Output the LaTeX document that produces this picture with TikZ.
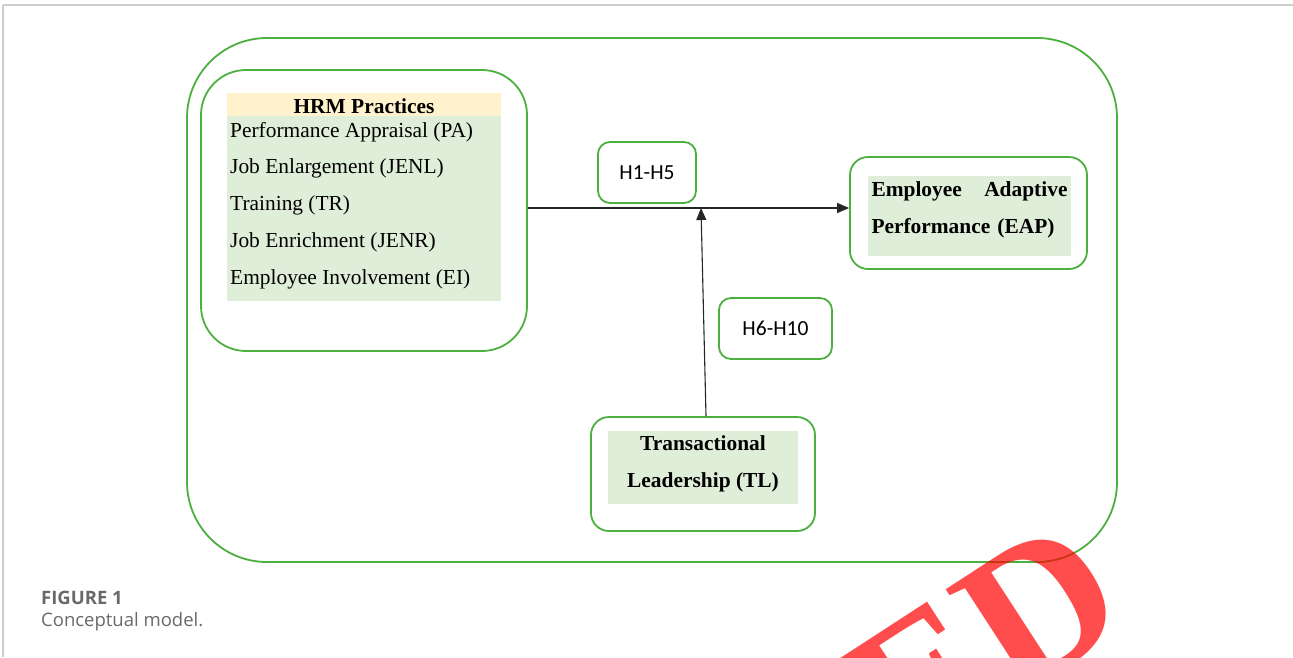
\documentclass[tikz,border=0pt]{standalone}
\usepackage{fontspec}
\setmainfont{Liberation Serif}
\newfontfamily\hsans{Carlito}
\newfontfamily\capsans{Open Sans}
\usetikzlibrary{arrows.meta,positioning}
\definecolor{boxgreen}{RGB}{76,175,64}
\definecolor{fillgreen}{RGB}{223,238,216}
\definecolor{fillcream}{RGB}{255,242,204}
\definecolor{capgray}{RGB}{105,105,105}
\definecolor{rulegray}{RGB}{205,205,205}

\tikzset{
  roundbox/.style={draw=boxgreen, line width=1.8pt, rounded corners=#1, inner sep=0pt},
  roundbox/.default=16pt,
  fillbox/.style={fill=fillgreen, inner sep=0pt},
  serif/.style={font=\fontsize{21.4}{37}\selectfont},
  serifbold/.style={font=\bfseries\fontsize{21.4}{37}\selectfont},
  hlabel/.style={font=\hsans\fontsize{21.5}{24}\selectfont},
  arr/.style={line width=1.1pt, draw=black!85, -{Triangle[length=12pt,width=10pt]}}
}

\begin{document}
\begin{tikzpicture}[x=1pt,y=-1pt]
  \useasboundingbox (0,0) rectangle (1293,657);

  % page rules
  \draw[rulegray, line width=2pt] (3,5) -- (1293,5);
  \draw[rulegray, line width=1.2pt] (3,5) -- (3,657);

  % outer frame
  \node[roundbox=80pt, minimum width=930pt, minimum height=524pt] (frame) at (652,300) {};

  % HRM practices
  \node[roundbox=45pt, minimum width=326pt, minimum height=281pt] (hrm) at (364,210.5) {};
  \node[fill=fillcream, inner sep=0pt, minimum width=274pt, minimum height=23pt] (hrmhead) at (364,104.5) {};
  \node[fillbox, minimum width=274pt, minimum height=185pt] (hrmlist) at (364,208.5) {};
  \node[serifbold] (hrmtitle) at (364,106) {HRM Practices};
  \node[serif, anchor=west, inner sep=0pt] (pa) at (230,132) {Performance Appraisal (PA)};
  \node[serif, anchor=west, inner sep=0pt] (jenl) at (230,168) {Job Enlargement (JENL)};
  \node[serif, anchor=west, inner sep=0pt] (tr) at (230,205) {Training (TR)};
  \node[serif, anchor=west, inner sep=0pt] (jenr) at (230,242) {Job Enrichment (JENR)};
  \node[serif, anchor=west, inner sep=0pt] (ei) at (230,279) {Employee Involvement (EI)};

  % hypotheses
  \node[roundbox=12pt, hlabel, minimum width=98pt, minimum height=61pt] (hone) at (647,172.5) {H1-H5};
  \node[roundbox=12pt, hlabel, minimum width=113pt, minimum height=61pt] (hsix) at (775.5,328.5) {H6-H10};

  % employee adaptive performance
  \node[roundbox=18pt, minimum width=237pt, minimum height=112pt] (eap) at (968.5,213) {};
  \node[fillbox, minimum width=203pt, minimum height=80pt] (eapfill) at (969.5,216) {};
  \node[serifbold, text width=196pt, align=left, inner sep=0pt]
    (eaptext) at (969.5,210) {Employee\hfill Adaptive\\Performance (EAP)};

  % transactional leadership
  \node[roundbox=18pt, minimum width=224pt, minimum height=114pt] (tl) at (703,474) {};
  \node[fillbox, minimum width=190pt, minimum height=73pt] (tlfill) at (703,467.5) {};
  \node[serifbold, align=center, inner sep=0pt] (tltext) at (703,464) {Transactional\\Leadership (TL)};

  % connectors
  \coordinate (hit) at (701,208);
  \draw[arr] (hit -| hrm.east) -- (hit -| eap.west);
  \draw[arr] ([xshift=3pt]tl.north) -- (hit);

  % caption
  \node[anchor=west, inner sep=0pt, text=capgray, font=\capsans\bfseries\fontsize{18.5}{22}\selectfont] (capnum) at (41,598) {FIGURE 1};
  \node[anchor=west, inner sep=0pt, text=capgray, font=\capsans\fontsize{18.5}{22}\selectfont] (captext) at (41,622) {Conceptual model.};

  % watermark
  \begin{scope}
    \clip (0,0) rectangle (1293,657);
    \node[anchor=base east, rotate=33, text=red, text opacity=0.7, inner sep=0pt,
      font=\bfseries\fontsize{200}{200}\selectfont] (stamp) at (1136,623) {RETRACTED};
  \end{scope}
\end{tikzpicture}
\end{document}
